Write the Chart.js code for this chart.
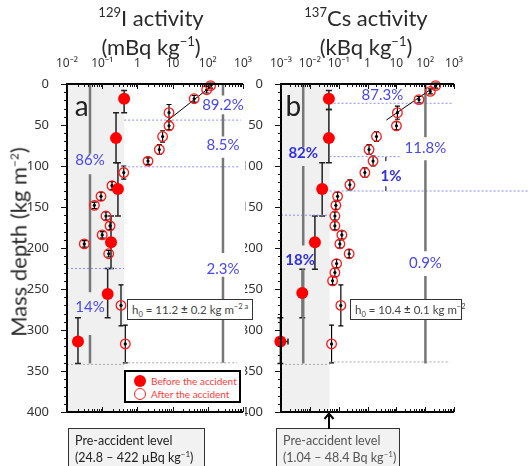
<!DOCTYPE html>
<html><head><meta charset="utf-8">
<script src="https://cdn.jsdelivr.net/npm/chart.js@4.4.1/dist/chart.umd.min.js"></script>
<style>
html,body{margin:0;padding:0;background:#fff;}
#wrap{position:relative;width:529px;height:466px;overflow:hidden;font-family:Lato,"Open Sans",sans-serif;color:#222;}
#wrap canvas{position:absolute;top:0;}
.ttl{position:absolute;top:3px;width:200px;text-align:center;font-size:22px;line-height:29px;font-weight:400;color:#2a2a2a;z-index:3;}
.ttl sup{font-size:13px;line-height:1;vertical-align:top;position:relative;top:3px;}
.ytitle{position:absolute;left:18px;top:242px;transform:translate(-50%,-50%) rotate(-90deg);white-space:nowrap;font-size:22px;font-weight:400;color:#2a2a2a;z-index:3;}
.ytitle sup{font-size:12px;}
.h0{position:absolute;background:#fff;border:1.5px solid #333;font-size:11.5px;color:#444;padding:0 4px;height:21px;line-height:19px;white-space:nowrap;z-index:3;box-sizing:border-box;}
.h0 sub,.h0 sup{font-size:7.5px;line-height:0;}
.leg{position:absolute;border:2px solid #000;background:#fff;z-index:3;box-sizing:border-box;}
.leg .dot{position:absolute;left:8px;width:12px;height:12px;border-radius:50%;box-sizing:border-box;}
.leg .f{background:#ff0000;}
.leg .o{border:1.3px solid #ff2020;background:#fff;}
.leg .lt{position:absolute;left:25px;font-size:10px;line-height:12px;color:#ff3b3b;white-space:nowrap;}
.pre{position:absolute;top:428px;height:50px;background:#f2f2f2;border:1.5px solid #333;font-size:12.5px;line-height:17px;padding:3px 6px;box-sizing:border-box;z-index:3;white-space:nowrap;}
.pre sup{font-size:8px;line-height:0;}
</style></head><body>
<div id="wrap">
<canvas id="ca" width="260" height="466" style="left:0px"></canvas>
<canvas id="cb" width="284" height="466" style="left:245px"></canvas>
<div class="ttl" style="left:51px"><sup>129</sup>I activity<br>(mBq kg<sup>−1</sup>)</div>
<div class="ttl" style="left:266px"><sup>137</sup>Cs activity<br>(kBq kg<sup>−1</sup>)</div>
<div class="ytitle">Mass depth (kg m<sup>−2</sup>)</div>
<div class="h0" style="left:127px;top:299px;width:126px;">h<sub>0</sub> = 11.2 <b>±</b> 0.2 kg m<sup>−2 a</sup></div>
<div class="h0" style="left:350px;top:299px;width:112px;">h<sub>0</sub> = 10.4 <b>±</b> 0.1 kg m<sup>−2</sup></div>
<div class="leg" style="left:124px;top:370px;width:117px;height:33px;">
  <span class="dot f" style="top:3px"></span><span class="lt" style="top:3px">Before the accident</span>
  <span class="dot o" style="top:16px"></span><span class="lt" style="top:16px">After the accident</span>
</div>
<div class="pre" style="left:68px;width:137px;color:#222;">Pre-accident level<br>(24.8 – 422 µBq kg<sup>−1</sup>)</div>
<div class="pre" style="left:276px;width:124px;color:#555;">Pre-accident level<br>(1.04 – 48.4 Bq kg<sup>−1</sup>)</div>
<svg style="position:absolute;left:323px;top:412px;z-index:3" width="12" height="18"><line x1="6" y1="17" x2="6" y2="2" stroke="#000" stroke-width="2"/><path d="M1.5,7 L6,1.5 L10.5,7" fill="none" stroke="#000" stroke-width="2"/></svg>
</div>
<script>
// ---------- DATA ----------
const xTicksA = [0.01, 0.1, 1, 10, 100, 1000];
const xTickLabelsA = ['10⁻²','10⁻¹','1','10','10²','10³'];
const xTicksB = [0.001, 0.01, 0.1, 1, 10, 100, 1000];
const xTickLabelsB = ['10⁻³','10⁻²','10⁻¹','1','10','10²','10³'];

// 129I, before the accident (mBq/kg), sample depth ranges (kg/m2)
const iBeforeAct = [0.42, 0.247, 0.28, 0.178, 0.143, 0.0205];
const iBeforeDepth = [18, 66, 128, 193, 256, 314];
const iBeforeTop = [8, 35, 96, 161, 225, 285];
const iBeforeBottom = [35, 96, 161, 225, 285, 341];
// 129I, after the accident
const iAfterAct = [120, 93, 41, 7.9, 7.9, 5.2, 4.2, 2.0, 0.41, 0.19, 0.0925, 0.06, 0.128, 0.167, 0.1, 0.031, 0.153, 0.342, 0.453];
const iAfterDepth = [2, 7, 18, 35, 51, 64, 80, 94, 108, 124, 137, 148, 161, 173, 184, 195, 207, 270, 317];
const iAfterErr = [3, 4, 4, 10, 5, 7, 6, 4, 8, 5, 5, 4, 5, 5, 4, 4, 4, 25, 23];
const iFit = [[7.5, 44], [150, 0]];
const iPreLevel = [0.0248, 0.422];
const iSplitAct = [0.045, 270];
const iSplitRanges = [[[0,85],[110,254],[306,341]], [[0,14],[37,64],[90,206],[235,340]]];
const iBoundBlue = [[44,0.422,870],[101,0.422,770],[225,0.01,0.422]];
const iBoundGray = [[342,0.01,0.422],[340,0.422,680]];
const iPctText = ['89.2%','8.5%','86%','2.3%','14%'];
const iPctAct = [270, 270, 0.045, 270, 0.045];
const iPctDepth = [26, 74, 93, 226, 272];

// 137Cs, before the accident (kBq/kg)
const csBeforeAct = [0.0458, 0.0458, 0.0268, 0.0150, 0.00546, 0.00095];
const csBeforeActErr = [0, 0, 0, 0, 0, 0.0008];
const csBeforeDepth = [18, 66, 128, 193, 255, 314];
const csBeforeTop = [8, 31, 96, 161, 226, 285];
const csBeforeBottom = [31, 96, 161, 226, 285, 341];
// 137Cs, after the accident
const csAfterAct = [231, 151, 61, 10.9, 10.1, 2.05, 1.13, 1.56, 0.81, 0.245, 0.0916, 0.080, 0.074, 0.074, 0.129, 0.110, 0.231, 0.0846, 0.074, 0.0615, 0.119, 0.0567];
const csAfterDepth = [2, 9, 19, 35, 51, 64, 80, 94, 108, 123, 137, 148, 161, 173, 184, 195, 207, 219, 230, 240, 270, 317];
const csAfterErr = [3, 3, 4, 8, 5, 6, 6, 6, 6, 6, 5, 5, 5, 5, 5, 5, 5, 5, 5, 5, 25, 23];
const csFit = [[4.5, 44], [290, 0]];
const csPreLevel = [0.00104, 0.0484];
const csSplitAct = [0.0059, 102];
const csSplitRanges = [[[0,77],[100,197],[226,341]], [[0,65],[93,204],[234,341]]];
const csOnePctAct = 4.3;
const csOnePctRanges = [[89,94],[125,130]];
const csBoundBlue = [[23.5,0.0484,940],[88.6,0.0484,13],[130.5,0.0484,400000],[160,0.001,0.0484]];
const csBoundGray = [[342,0.001,0.0484],[339,0.0484,720]];
const csPctText = ['87.3%','82%','11.8%','1%','18%','0.9%'];
const csPctAct = [3.3, 0.0059, 102, 6.5, 0.0046, 102];
const csPctDepth = [13, 84, 78, 112, 215, 219];
const csPctBold = [false, true, false, true, true, false];

// ---------- helpers ----------
const pts = (xs, ys) => xs.map((v, i) => ({x: v, y: ys[i]}));
function vsegs(xv, ranges){ const o=[]; ranges.forEach(r=>{o.push({x:xv,y:r[0]},{x:xv,y:r[1]},{x:xv,y:null});}); return o; }
function hsegs(list){ const o=[]; list.forEach(r=>{o.push({x:r[1],y:r[0]},{x:r[2],y:r[0]},{x:r[2],y:null});}); return o; }
const lineDs = (data, color, width, dash, extra) => Object.assign({type:'line', data, borderColor:color, borderWidth:width, borderDash:dash||[], pointRadius:0, showLine:true, spanGaps:false, fill:false, tension:0}, extra||{});

const decor = {
  id: 'decor',
  beforeDatasetsDraw(chart, args, o){
    const {ctx, chartArea:a, scales:{x, y}} = chart;
    ctx.save();
    ctx.fillStyle = '#f0f0f0';
    const sx = x.getPixelForValue(o.pre[1]);
    ctx.fillRect(a.left, a.top, sx - a.left, a.bottom - a.top);
    o.err.forEach(s => {
      ctx.strokeStyle = s.color; ctx.lineWidth = s.width;
      s.act.forEach((v, i) => {
        const px = x.getPixelForValue(v);
        const y1 = y.getPixelForValue(s.lo[i]), y2 = y.getPixelForValue(s.hi[i]);
        ctx.beginPath();
        ctx.moveTo(px, y1); ctx.lineTo(px, y2);
        ctx.moveTo(px - s.cap, y1); ctx.lineTo(px + s.cap, y1);
        ctx.moveTo(px - s.cap, y2); ctx.lineTo(px + s.cap, y2);
        ctx.stroke();
        if (s.xerr && s.xerr[i]) {
          const py = y.getPixelForValue(s.dep[i]);
          const xl = Math.max(a.left, x.getPixelForValue(Math.max(v - s.xerr[i], 1e-9)));
          const xr = x.getPixelForValue(v + s.xerr[i]);
          ctx.beginPath(); ctx.moveTo(xl, py); ctx.lineTo(xr, py);
          ctx.moveTo(xr, py - 3); ctx.lineTo(xr, py + 3); ctx.stroke();
        }
        if (s.dot) {
          ctx.fillStyle = '#000';
          ctx.beginPath(); ctx.arc(px, y.getPixelForValue(s.dep[i]), 1.6, 0, Math.PI*2); ctx.fill();
        }
      });
    });
    ctx.restore();
  },
  afterDatasetsDraw(chart, args, o){
    const {ctx, scales:{x, y}} = chart;
    ctx.save();
    ctx.textAlign = 'center'; ctx.textBaseline = 'middle';
    o.texts.forEach(t => {
      ctx.font = t.font; ctx.fillStyle = t.color;
      ctx.fillText(t.text, x.getPixelForValue(t.x), y.getPixelForValue(t.y));
    });
    ctx.restore();
  },
  afterDraw(chart, args, o){
    const {ctx, chartArea:a, scales:{x, y}} = chart;
    ctx.save();
    ctx.strokeStyle = '#000'; ctx.lineWidth = 2;
    ctx.beginPath();
    ctx.moveTo(a.left, a.bottom); ctx.lineTo(a.left, a.top - 1);
    ctx.moveTo(a.left - 1, a.top); ctx.lineTo(a.right, a.top);
    ctx.moveTo(a.left - 1, a.bottom); ctx.lineTo(a.right, a.bottom);
    ctx.stroke();
    ctx.lineWidth = 1; ctx.strokeStyle = '#111';
    ctx.beginPath();
    const e0 = Math.round(Math.log10(x.min)), e1 = Math.round(Math.log10(x.max));
    for (let e = e0; e <= e1; e++) {
      for (let k = 1; k <= 9; k++) {
        if (e === e1 && k > 1) break;
        const px = Math.round(x.getPixelForValue(k * Math.pow(10, e))) + 0.5;
        const len = k === 1 ? 5 : 3;
        ctx.moveTo(px, a.top); ctx.lineTo(px, a.top + len);
        ctx.moveTo(px, a.bottom); ctx.lineTo(px, a.bottom - len);
      }
    }
    for (let d = 0; d <= 400; d += 10) {
      const py = Math.round(y.getPixelForValue(d)) + 0.5;
      const len = d % 50 === 0 ? 6 : 3;
      ctx.moveTo(a.left - len, py); ctx.lineTo(a.left, py);
    }
    ctx.stroke();
    ctx.restore();
  }
};

function makeScales(ticks, labels, yWidth){
  return {
    x: {type:'logarithmic', position:'top', min:ticks[0], max:ticks[ticks.length-1],
        grid:{display:false}, border:{display:false},
        afterBuildTicks: s => { s.ticks = ticks.map(v => ({value:v})); },
        afterFit: s => { s.height = 84; },
        ticks:{autoSkip:false, maxRotation:0, padding:5, color:'#333', font:{family:'"Noto Sans"', size:12},
               callback:(v, i) => labels[i]}},
    y: {type:'linear', reverse:true, min:0, max:400, position:'left',
        grid:{display:false}, border:{display:false},
        afterFit: s => { s.width = yWidth; },
        ticks:{stepSize:50, padding:10, color:'#333', font:{family:'"Noto Sans"', size:13}}}
  };
}

const pctFont = '15px Lato, "Open Sans", sans-serif';
const pctBold = 'bold 15px Lato, "Open Sans", sans-serif';
const letterFont = '28px Lato, "Open Sans", sans-serif';

// ---------- Chart A (129I) ----------
const dsA = [
  {label:'Before the accident', data:pts(iBeforeAct, iBeforeDepth), pointRadius:6, pointBackgroundColor:'#ff0000', pointBorderColor:'#ff0000', pointBorderWidth:0, clip:false},
  {label:'After the accident', data:pts(iAfterAct, iAfterDepth), pointRadius:4.8, pointBackgroundColor:'rgba(0,0,0,0)', pointBorderColor:'#ff1a1a', pointBorderWidth:1.3, clip:false},
  lineDs(iFit.map(p=>({x:p[0], y:p[1]})), '#000', 1),
  lineDs(vsegs(iSplitAct[0], iSplitRanges[0]), '#777', 2.5),
  lineDs(vsegs(iSplitAct[1], iSplitRanges[1]), '#777', 2.5),
  lineDs(hsegs(iBoundBlue), '#8c8cff', 1, [2,2], {clip:false}),
  lineDs(hsegs(iBoundGray), '#aaaaaa', 1, [2,2], {clip:false})
];
const textsA = iPctText.map((t,i)=>({text:t, x:iPctAct[i], y:iPctDepth[i], font:pctFont, color:'#4848f0'}));
textsA.push({text:'a', x:0.026, y:28, font:letterFont, color:'#222'});

new Chart(document.getElementById('ca'), {
  type:'scatter',
  data:{datasets:dsA},
  options:{responsive:false, animation:false, events:[],
    layout:{padding:{left:0, top:0, right:17, bottom:54}},
    plugins:{legend:{display:false}, tooltip:{enabled:false},
      decor:{pre:iPreLevel, texts:textsA, err:[
        {act:iBeforeAct, dep:iBeforeDepth, lo:iBeforeTop, hi:iBeforeBottom, color:'#222', width:1.5, cap:3},
        {act:iAfterAct, dep:iAfterDepth, lo:iAfterDepth.map((d,i)=>d-iAfterErr[i]), hi:iAfterDepth.map((d,i)=>d+iAfterErr[i]), color:'#000', width:1.2, cap:2.5, dot:true}
      ]}},
    scales:makeScales(xTicksA, xTickLabelsA, 67)},
  plugins:[decor]
});

// ---------- Chart B (137Cs) ----------
const dsB = [
  {label:'Before the accident', data:pts(csBeforeAct, csBeforeDepth), pointRadius:6, pointBackgroundColor:'#ff0000', pointBorderColor:'#ff0000', pointBorderWidth:0, clip:false},
  {label:'After the accident', data:pts(csAfterAct, csAfterDepth), pointRadius:4.8, pointBackgroundColor:'rgba(0,0,0,0)', pointBorderColor:'#ff1a1a', pointBorderWidth:1.3, clip:false},
  lineDs(csFit.map(p=>({x:p[0], y:p[1]})), '#000', 1),
  lineDs(vsegs(csSplitAct[0], csSplitRanges[0]), '#777', 2.5),
  lineDs(vsegs(csSplitAct[1], csSplitRanges[1]), '#777', 2.5),
  lineDs(vsegs(csOnePctAct, csOnePctRanges), '#555', 1),
  lineDs(hsegs(csBoundBlue), '#8c8cff', 1, [2,2], {clip:false}),
  lineDs(hsegs(csBoundGray), '#aaaaaa', 1, [2,2], {clip:false})
];
const textsB = csPctText.map((t,i)=>({text:t, x:csPctAct[i], y:csPctDepth[i], font:csPctBold[i]?pctBold:pctFont, color:csPctBold[i]?'#3030e0':'#4848f0'}));
textsB.push({text:'b', x:0.00267, y:28, font:letterFont, color:'#222'});

new Chart(document.getElementById('cb'), {
  type:'scatter',
  data:{datasets:dsB},
  options:{responsive:false, animation:false, events:[],
    layout:{padding:{left:0, top:0, right:75, bottom:54}},
    plugins:{legend:{display:false}, tooltip:{enabled:false},
      decor:{pre:csPreLevel, texts:textsB, err:[
        {act:csBeforeAct, dep:csBeforeDepth, lo:csBeforeTop, hi:csBeforeBottom, xerr:csBeforeActErr, color:'#222', width:1.5, cap:3},
        {act:csAfterAct, dep:csAfterDepth, lo:csAfterDepth.map((d,i)=>d-csAfterErr[i]), hi:csAfterDepth.map((d,i)=>d+csAfterErr[i]), color:'#000', width:1.2, cap:2.5, dot:true}
      ]}},
    scales:makeScales(xTicksB, xTickLabelsB, 36)},
  plugins:[decor]
});
</script>
</body></html>
